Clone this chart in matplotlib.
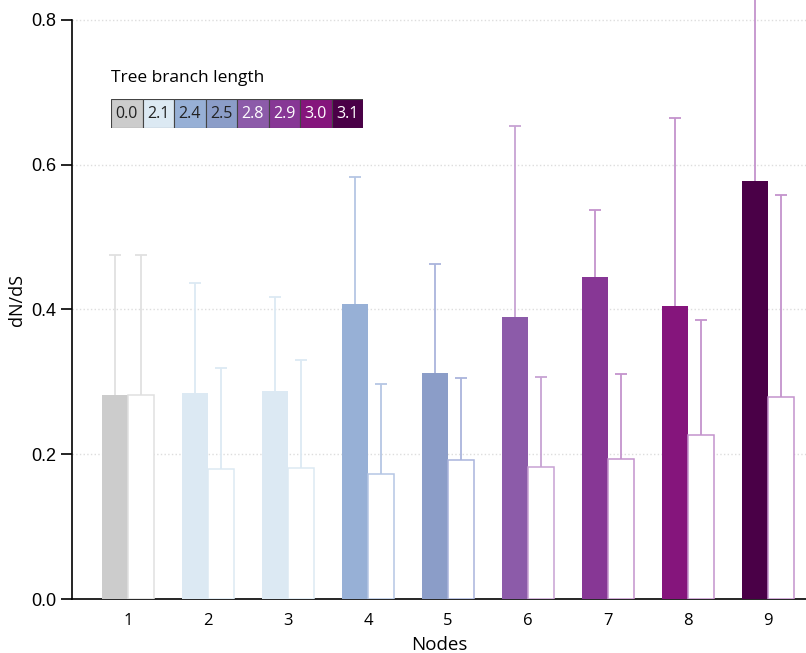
import matplotlib.pyplot as plt
from matplotlib.patches import Rectangle

nodes = [1, 2, 3, 4, 5, 6, 7, 8, 9]
# filled bars (dN/dS) and their upper error limits
filled = [0.282, 0.285, 0.288, 0.407, 0.312, 0.389, 0.445, 0.405, 0.578]
filled_err = [0.475, 0.436, 0.417, 0.583, 0.463, 0.654, 0.538, 0.665, 0.90]
# open bars
open_vals = [0.282, 0.179, 0.181, 0.173, 0.192, 0.183, 0.193, 0.227, 0.279]
open_err = [0.475, 0.319, 0.330, 0.297, 0.306, 0.307, 0.311, 0.385, 0.558]

branch_labels = ['0.0', '2.1', '2.4', '2.5', '2.8', '2.9', '3.0', '3.1']
branch_colors = ['#cccccc', '#dce9f3', '#97b0d6', '#8b9dc8',
                 '#8c5ba9', '#873795', '#85157c', '#4a0047']
branch_text = ['#222222'] * 4 + ['white'] * 4
node_branch = [0, 1, 1, 2, 3, 4, 5, 6, 7]
light_colors = ['#e0e0e0', '#dce9f3', '#dce9f3', '#b5c6e4', '#aab4dc',
                '#c7a2d3', '#c493cd', '#c493cd', '#c493cd']

fig = plt.figure(figsize=(8.06, 6.53), dpi=100)
ax = fig.add_axes([72 / 806, 54 / 653, 1 - 72 / 806, 599 / 653])

w = 0.325
xf = [n - w / 2 for n in nodes]
xo = [n + w / 2 for n in nodes]
fcols = [branch_colors[b] for b in node_branch]

ax.bar(xf, filled, width=w, color=fcols, edgecolor=fcols, linewidth=0, zorder=3)
ax.bar(xo, open_vals, width=w, color='white', edgecolor=light_colors,
       linewidth=1.1, zorder=3)

for i in range(len(nodes)):
    for x, v, e in [(xf[i], filled[i], filled_err[i]), (xo[i], open_vals[i], open_err[i])]:
        eb = ax.errorbar([x], [v], yerr=[[0], [e - v]], fmt='none',
                         ecolor=light_colors[i], elinewidth=1.3, capsize=4.6,
                         capthick=1.3, zorder=2)
        eb[1][0].set_visible(False)

ax.set_xlim(0.3, 9.475)
ax.set_ylim(0, 0.8276)
ax.set_yticks([0.0, 0.2, 0.4, 0.6, 0.8])
ax.set_yticklabels(['0.0', '0.2', '0.4', '0.6', '0.8'], family='Liberation Sans', fontsize=13)
ax.set_xticks(nodes)
ax.set_xticklabels([str(n) for n in nodes], family='Open Sans', fontsize=12)
ax.tick_params(axis='x', length=0, pad=10)
ax.tick_params(axis='y', length=8, width=1.2, pad=3)
for y in [0.2, 0.4, 0.6, 0.8]:
    ax.axhline(y, color='#dddddd', linestyle=':', linewidth=1, zorder=1)
ax.spines['top'].set_visible(False)
ax.spines['right'].set_visible(False)
ax.spines['left'].set_bounds(0, 0.8)
ax.spines['left'].set_linewidth(1.2)
ax.spines['bottom'].set_linewidth(1.2)
ax.set_xlabel('Nodes', family='Open Sans', fontsize=13.5, labelpad=5)
ax.set_ylabel('dN/dS', family='Open Sans', fontsize=13, labelpad=4)

# branch length legend
lax = fig.add_axes([111 / 806, 1 - 128 / 653, 252 / 806, 29 / 653])
lax.set_xlim(0, len(branch_labels))
lax.set_ylim(0, 1)
lax.axis('off')
for i, (lab, c, tc) in enumerate(zip(branch_labels, branch_colors, branch_text)):
    lax.add_patch(Rectangle((i, 0), 1, 1, facecolor=c, edgecolor='#444444', linewidth=0.8))
    lax.text(i + 0.5, 0.5, lab, ha='center', va='center', color=tc,
             family='Open Sans', fontsize=11.5)
fig.text(111 / 806, 1 - 78 / 653, 'Tree branch length', ha='left', va='center',
         family='Open Sans', fontsize=12.5)

fig.savefig('out.png', dpi=100)
